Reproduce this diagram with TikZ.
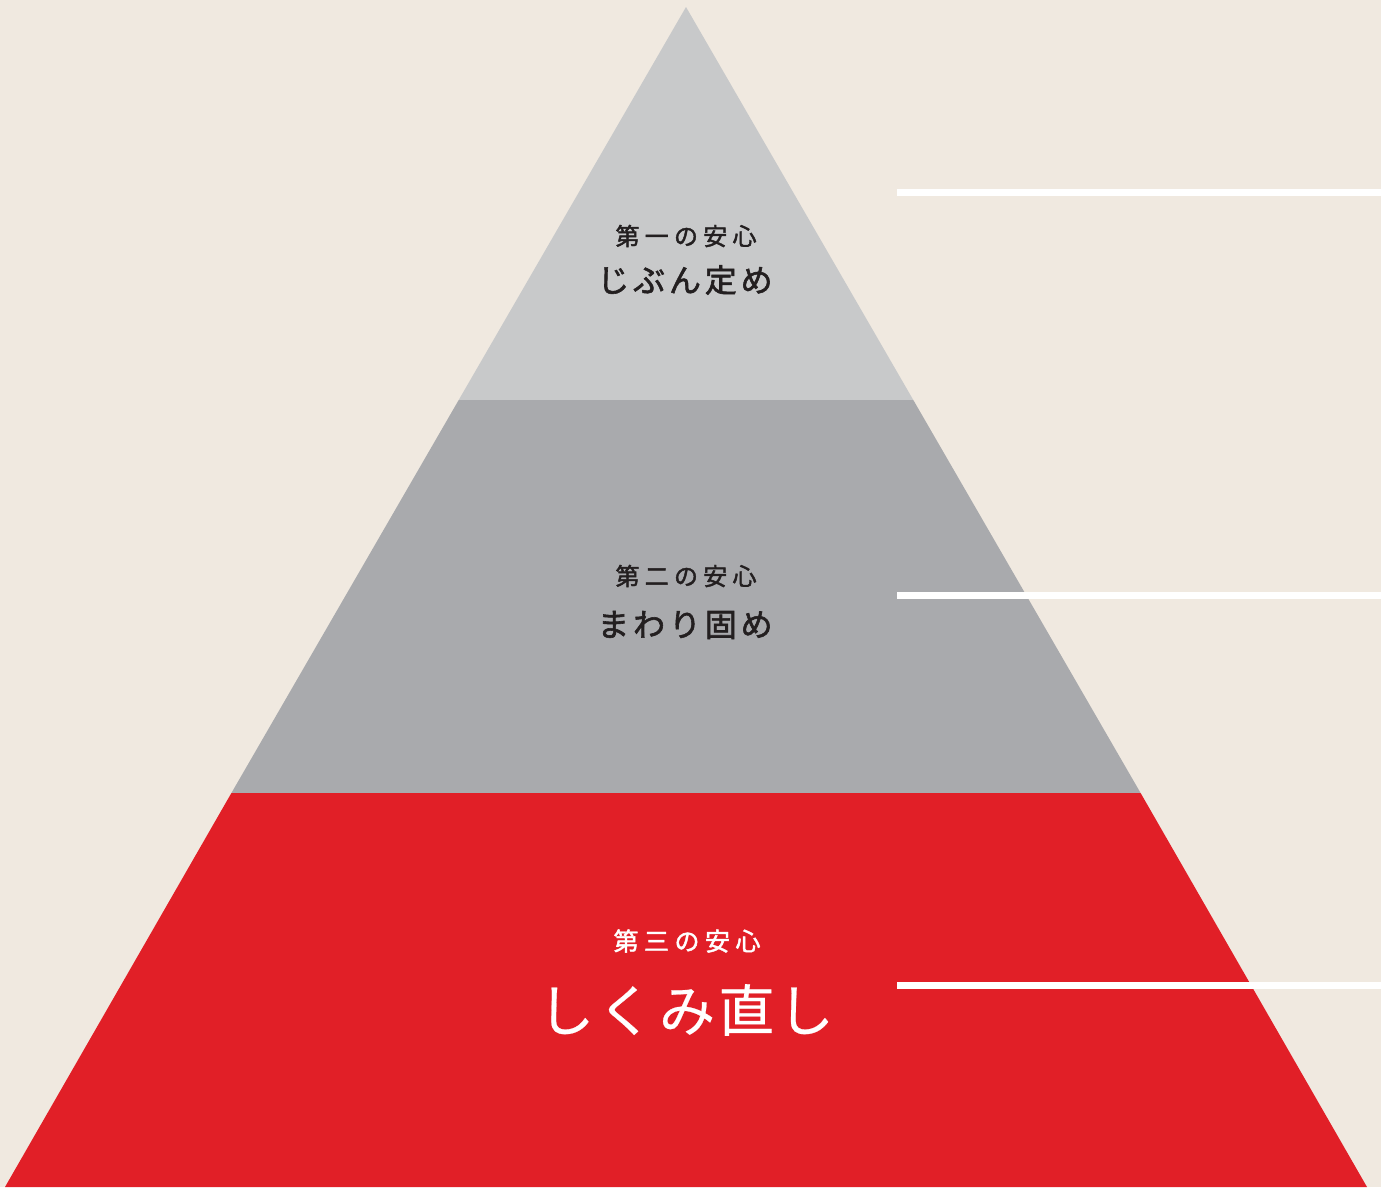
\documentclass[tikz,border=0pt]{standalone}
\usepackage{fontspec}
\newfontfamily\jpsmall[LetterSpace=22,FakeBold=1.8]{Noto Sans CJK JP}
\newfontfamily\jpmid[LetterSpace=12,FakeBold=1.8]{Noto Sans CJK JP}
\newfontfamily\jpbig[LetterSpace=6,FakeBold=0.4]{Noto Sans CJK JP}
\definecolor{bg}{HTML}{F0E9E0}
\definecolor{tierA}{HTML}{C8C9CA}
\definecolor{tierB}{HTML}{A9AAAD}
\definecolor{tierC}{HTML}{E11F27}
\definecolor{ink}{HTML}{231F20}
\begin{document}
\begin{tikzpicture}[x=1pt,y=-1pt,
  marker/.style={draw=white,line width=7pt},
  small/.style={font=\jpsmall\fontsize{24}{28}\selectfont,inner sep=0pt},
  smallw/.style={font=\jpsmall\fontsize{25}{29}\selectfont,inner sep=0pt},
  mid/.style={font=\jpmid\fontsize{32}{36}\selectfont,inner sep=0pt},
  big/.style={font=\jpbig\fontsize{56}{62}\selectfont,inner sep=0pt}]
\fill[bg] (0,0) rectangle (1381,1187);
\useasboundingbox (0,0) rectangle (1381,1187);
% pyramid tiers
\fill[tierA] (686,7) -- (913.3,400) -- (458.7,400) -- cycle;
\fill[tierB] (458.7,400) -- (913.3,400) -- (1140.6,793) -- (231.4,793) -- cycle;
\fill[tierC] (231.4,793) -- (1140.6,793) -- (1367,1187) -- (5,1187) -- cycle;
% marker lines
\coordinate (l1a) at (897,192); \coordinate (l1b) at (1381,192);
\coordinate (l2a) at (897,595); \coordinate (l2b) at (1381,595);
\coordinate (l3a) at (897,985); \coordinate (l3b) at (1381,985);
\draw[marker] (l1a) -- (l1b);
\draw[marker] (l2a) -- (l2b);
\draw[marker] (l3a) -- (l3b);
% labels
\node[small,text=ink] (t1) at (686,236) {第一の安心};
\node[mid,text=ink] (n1) at (685,280) {じぶん定め};
\node[small,text=ink] (t2) at (686,576) {第二の安心};
\node[mid,text=ink] (n2) at (685,625) {まわり固め};
\node[smallw,text=white] (t3) at (687,941) {第三の安心};
\node[big,text=white] (n3) at (686,1010) {しくみ直し};
\end{tikzpicture}
\end{document}
